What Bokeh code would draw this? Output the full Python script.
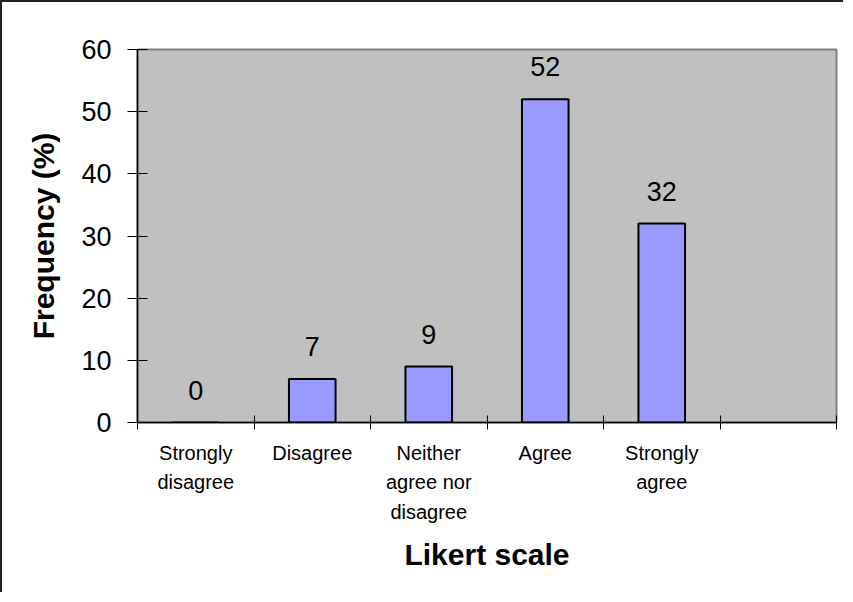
from bokeh.plotting import figure
from bokeh.models import ColumnDataSource, Range1d, FixedTicker, LabelSet
from bokeh.core.properties import value
from bokeh.embed import file_html
from bokeh.resources import INLINE

# ---- data ----
categories = ["Strongly\ndisagree", "Disagree", "Neither\nagree nor\ndisagree", "Agree", "Strongly\nagree"]
frequency = [0, 7, 9, 52, 32]
value_labels = ["0", "7", "9", "52", "32"]
y_ticks = [0, 10, 20, 30, 40, 50, 60]
n_slots = 6  # Excel category axis had one extra empty slot

FONT = "Liberation Sans"

x_pos = [i + 0.5 for i in range(len(categories))]
src = ColumnDataSource(dict(x=x_pos, top=frequency, label=value_labels))

p = figure(width=843, height=592, output_backend="svg", toolbar_location=None,
           x_range=Range1d(0, n_slots), y_range=Range1d(0, 60),
           min_border_left=135, min_border_right=9, min_border_top=47, min_border_bottom=172)
p.styles = {"border-left": "2px solid #222222", "border-top": "2px solid #222222"}

p.background_fill_color = "#C0C0C0"
p.border_fill_color = "white"
p.outline_line_color = "#808080"
p.outline_line_width = 2
p.xgrid.visible = False
p.ygrid.visible = False

p.vbar(x="x", top="top", bottom=0, width=0.4, source=src,
       fill_color="#9999FF", line_color="black", line_width=2)

labels = LabelSet(x="x", y="top", text="label", source=src, text_align="center",
                  text_baseline="alphabetic", y_offset=23,
                  text_font=value(FONT), text_font_size=value("27px"), text_color="black")
p.add_layout(labels)

# x axis
xa = p.xaxis[0]
xa.ticker = FixedTicker(ticks=x_pos, minor_ticks=list(range(n_slots + 1)))
xa.major_label_overrides = {x: c for x, c in zip(x_pos, categories)}
xa.major_tick_line_color = None
xa.major_tick_in = 0
xa.major_tick_out = 0
xa.minor_tick_in = 7
xa.minor_tick_out = 7
xa.minor_tick_line_color = "black"
xa.axis_line_color = "black"
xa.axis_line_width = 1.5
xa.major_label_text_font = FONT
xa.major_label_text_font_size = "20px"
xa.major_label_text_color = "black"
xa.major_label_text_line_height = 1.35
xa.major_label_standoff = 12
xa.axis_label = "Likert scale"
xa.axis_label_text_font = FONT
xa.axis_label_text_font_size = "30px"
xa.axis_label_text_font_style = "bold"
xa.axis_label_text_color = "black"
xa.axis_label_standoff = 12

# y axis
ya = p.yaxis[0]
ya.ticker = FixedTicker(ticks=y_ticks, minor_ticks=[])
ya.major_tick_in = 10
ya.major_tick_out = 10
ya.major_tick_line_color = "black"
ya.axis_line_color = "black"
ya.axis_line_width = 1.5
ya.major_label_text_font = FONT
ya.major_label_text_font_size = "27px"
ya.major_label_text_color = "black"
ya.major_label_standoff = 16
ya.axis_label = "Frequency (%)"
ya.axis_label_text_font = FONT
ya.axis_label_text_font_size = "30px"
ya.axis_label_text_font_style = "bold"
ya.axis_label_text_color = "black"
ya.axis_label_standoff = 18

open("out.html", "w").write(file_html(p, INLINE))
